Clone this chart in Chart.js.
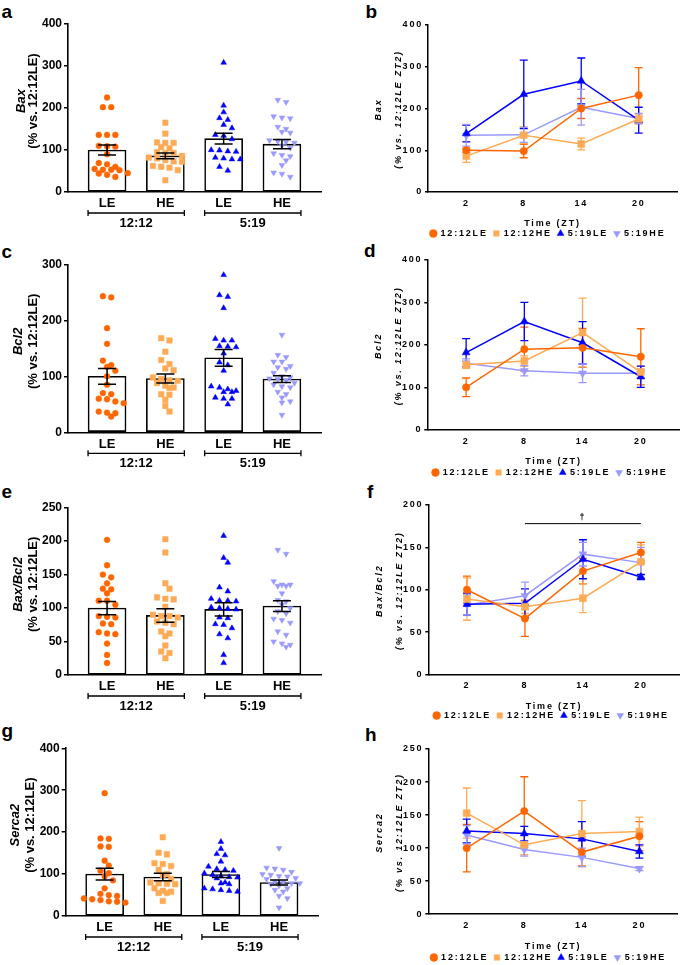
<!DOCTYPE html>
<html>
<head>
<meta charset="utf-8">
<script src="https://cdn.jsdelivr.net/npm/chart.js@4.4.1/dist/chart.umd.min.js"></script>
<style>
  body { margin: 0; width: 685px; height: 965px; position: relative; overflow: hidden; background: #fff; }
  canvas { position: absolute; }
  .tag { position: absolute; font: bold 19px/19px "Liberation Sans", Arial, sans-serif; color: #000; }
</style>
</head>
<body>
<div class="tag" style="left:1.5px;top:2px">a</div>
<div class="tag" style="left:365.5px;top:2px">b</div>
<div class="tag" style="left:1.5px;top:242px">c</div>
<div class="tag" style="left:364px;top:241px">d</div>
<div class="tag" style="left:1.5px;top:482px">e</div>
<div class="tag" style="left:367px;top:482px">f</div>
<div class="tag" style="left:1.5px;top:721px">g</div>
<div class="tag" style="left:365px;top:725px">h</div>
<script>
// ---- data ----
const groupLabels = ['LE', 'HE', 'LE', 'HE'];
const photoperiods = ['12:12', '5:19'];
const seriesNames = ['12:12LE', '12:12HE', '5:19LE', '5:19HE'];
const zt = [2, 8, 14, 20];

// a: Bax, individual animals
const baxLE12 = [225, 202, 202, 136, 136, 136, 110, 109, 108, 90, 69, 66, 60, 55, 53, 53, 52, 45, 44, 41, 36];
const baxHE12 = [165, 139, 118, 117, 117, 107, 104, 95, 93, 93, 86, 82, 80, 76, 73, 72, 62, 60, 58, 52, 28];
const baxLE5 = [308, 206, 190, 176, 172, 160, 152, 136, 134, 126, 100, 99, 97, 96, 82, 80, 78, 78, 60, 51];
const baxHE5 = [219, 214, 180, 177, 175, 155, 150, 143, 141, 123, 121, 119, 117, 110, 105, 92, 88, 85, 75, 64, 46, 43, 36];
const baxMean = [100, 86, 127, 114];
const baxSem = [12, 7, 13, 11];

// c: Bcl2
const bclLE12 = [243, 241, 186, 158, 128, 120, 117, 110, 100, 85, 70, 68, 60, 59, 55, 52, 37, 35, 34, 28];
const bclHE12 = [168, 164, 144, 129, 122, 114, 111, 98, 95, 93, 92, 88, 83, 80, 79, 68, 67, 58, 47, 37];
const bclLE5 = [281, 245, 242, 222, 167, 164, 164, 154, 153, 152, 141, 125, 120, 110, 82, 80, 77, 74, 72, 72, 62, 60, 60, 50];
const bclHE5 = [174, 138, 134, 126, 126, 118, 116, 113, 106, 100, 98, 96, 95, 93, 88, 85, 82, 80, 72, 68, 62, 55, 53, 31];
const bclMean = [100, 96, 133, 95];
const bclSem = [14, 8, 15, 6];

// e: Bax/Bcl2
const ratioLE12 = [202, 164, 150, 146, 137, 129, 128, 122, 111, 111, 105, 88, 87, 86, 77, 76, 64, 62, 61, 47, 30, 18];
const ratioHE12 = [203, 183, 137, 129, 116, 114, 113, 102, 90, 88, 88, 86, 80, 78, 76, 65, 62, 58, 44, 35, 33, 25];
const ratioLE5 = [208, 175, 168, 131, 125, 114, 111, 111, 110, 101, 100, 99, 98, 86, 85, 76, 75, 70, 61, 55, 30, 18];
const ratioHE5 = [187, 181, 140, 135, 135, 133, 133, 122, 112, 110, 105, 100, 95, 92, 84, 82, 78, 65, 60, 50, 47, 45, 42];
const ratioMean = [100, 89, 98, 103];
const ratioSem = [10, 10, 10, 8];

// g: Serca2
const sercaLE12 = [293, 185, 184, 166, 165, 132, 120, 108, 102, 95, 85, 66, 53, 50, 48, 42, 40, 38, 35, 34, 32];
const sercaHE12 = [188, 151, 147, 126, 124, 119, 110, 100, 98, 88, 80, 78, 77, 76, 66, 60, 58, 55, 55, 36];
const sercaLE5 = [177, 160, 148, 145, 130, 118, 112, 110, 108, 102, 98, 95, 93, 92, 90, 80, 78, 76, 66, 64, 62, 60, 58];
const sercaHE5 = [162, 115, 113, 110, 105, 100, 98, 95, 94, 90, 88, 82, 80, 78, 78, 76, 72, 66, 62, 58, 48, 42, 20];
const sercaMean = [100, 93, 99, 80];
const sercaSem = [14, 9, 7, 6];

// b, d, f, h: means and SEM at ZT2, ZT8, ZT14, ZT20 (order 12:12LE, 12:12HE, 5:19LE, 5:19HE)
const baxZtMean = [[100, 98, 200, 232], [86, 136, 115, 175], [140, 234, 266, 172], [136, 137, 203, 176]];
const baxZtSem = [[5, 16, 24, 66], [15, 20, 14, 12], [20, 82, 55, 31], [26, 18, 43, 12]];
const bclZtMean = [[100, 190, 193, 172], [153, 162, 229, 136], [182, 255, 205, 125], [157, 139, 133, 133]];
const bclZtSem = [[22, 52, 46, 66], [8, 12, 81, 14], [33, 45, 50, 25], [10, 12, 22, 10]];
const ratioZtMean = [[100, 66, 122, 144], [89, 80, 90, 133], [83, 84, 136, 115], [82, 93, 142, 132]];
const ratioZtSem = [[16, 21, 15, 12], [25, 8, 17, 20], [13, 17, 23, 3], [12, 16, 14, 18]];
const sercaZtMean = [[100, 156, 94, 118], [153, 105, 122, 125], [126, 122, 114, 95], [120, 98, 86, 69]];
const sercaZtSem = [[36, 52, 21, 22], [38, 15, 50, 22], [18, 11, 26, 10], [14, 10, 14, 3]];
const ratioSigFrom = 8, ratioSigTo = 20, ratioSigAt = 178;

// ---- styling ----
const ink = '#000';
const FAM = '"Liberation Sans", Arial, sans-serif';
const colors = ['#FF6600', '#FFAA55', '#0000FF', '#9999FF'];
const markers = ['circle', 'rect', 'triangle', 'triangle'];
const markerRot = [0, 0, 0, 180];
const dotRadius = [2.9, 3.9, 3.3, 3.3];
const lineRadius = [3.7, 4.9, 4.6, 4.6];
const X_MIN = -0.67, X_MAX = 3.67, SWARM_STEP = 8.3;
const LEGEND_H = 9 + 6 + 10;
const Y_AXIS_W = 28, RIGHT_PAD_W = 19;

Chart.defaults.font.family = FAM;
Chart.defaults.color = ink;

// GraphPad-like scatter: near-equal values share a row, rows centred on the bar
function swarm(vals, center, pxY, pxX) {
  const rows = [];
  vals.slice().sort((a, b) => b - a).forEach(v => {
    const row = rows[rows.length - 1];
    if (row && (row.vals[0] - v) * pxY < 4.5) row.vals.push(v);
    else rows.push({ vals: [v], shift: 0 });
  });
  rows.forEach((row, k) => {
    const prev = rows[k - 1];
    if (prev && (prev.vals[prev.vals.length - 1] - row.vals[0]) * pxY < 6 &&
        prev.vals.length % 2 === row.vals.length % 2) row.shift = prev.shift ? 0 : 0.5;
  });
  const pts = [];
  rows.forEach(row => row.vals.forEach((v, j) => {
    pts.push({ x: center + (j - (row.vals.length - 1) / 2 + row.shift) * SWARM_STEP / pxX, y: v });
  }));
  return pts;
}

function vText(ctx, text, x, y, font) {
  ctx.save();
  ctx.translate(x, y);
  ctx.rotate(-Math.PI / 2);
  ctx.font = font;
  ctx.textAlign = 'center';
  ctx.textBaseline = 'middle';
  ctx.fillStyle = ink;
  ctx.fillText(text, 0, 0);
  ctx.restore();
}

function capLine(ctx, x, y1, y2, half) {
  ctx.beginPath();
  ctx.moveTo(x, y1); ctx.lineTo(x, y2);
  ctx.moveTo(x - half, y1); ctx.lineTo(x + half, y1);
  ctx.moveTo(x - half, y2); ctx.lineTo(x + half, y2);
  ctx.stroke();
}

const deco = {
  id: 'deco',
  beforeUpdate(chart, args, o) { chart.ctx.letterSpacing = o.spacing; },
  beforeDraw(chart, args, o) { chart.ctx.letterSpacing = o.spacing; },
  beforeDatasetsDraw(chart, args, o) {
    if (!o.lineErr) return;
    const ctx = chart.ctx, y = chart.scales.y;
    ctx.save();
    ctx.lineWidth = 1.3;
    chart.data.datasets.forEach((ds, i) => {
      ctx.strokeStyle = ds.borderColor;
      chart.getDatasetMeta(i).data.forEach((el, k) => {
        const m = ds.data[k].y, s = ds.sems[k];
        capLine(ctx, el.x, y.getPixelForValue(m + s), y.getPixelForValue(m - s), 4);
      });
    });
    ctx.restore();
  },
  afterDatasetsDraw(chart, args, o) {
    const ctx = chart.ctx, area = chart.chartArea, x = chart.scales.x, y = chart.scales.y;
    ctx.save();
    ctx.fillStyle = ink;
    ctx.strokeStyle = ink;
    if (o.barErr) {
      ctx.lineWidth = 1.5;
      o.means.forEach((m, i) => {
        capLine(ctx, x.getPixelForValue(i), y.getPixelForValue(m + o.sems[i]), y.getPixelForValue(m - o.sems[i]), 9);
      });
      // photoperiod brackets under the category labels
      ctx.lineWidth = 1.3;
      ctx.font = 'bold 13px ' + FAM;
      ctx.textAlign = 'center';
      ctx.textBaseline = 'middle';
      const by = area.bottom + 21;
      photoperiods.forEach((lab, g) => {
        const x1 = x.getPixelForValue(2 * g) - 19, x2 = x.getPixelForValue(2 * g + 1) + 19;
        ctx.beginPath();
        ctx.moveTo(x1, by); ctx.lineTo(x2, by);
        ctx.moveTo(x1, by - 3); ctx.lineTo(x1, by + 3);
        ctx.moveTo(x2, by - 3); ctx.lineTo(x2, by + 3);
        ctx.stroke();
        ctx.fillText(lab, (x1 + x2) / 2, by + 10);
      });
    }
    if (o.sig) {
      ctx.lineWidth = 1;
      const sy = y.getPixelForValue(o.sig.at);
      ctx.beginPath();
      ctx.moveTo(x.getPixelForValue(o.sig.from), sy);
      ctx.lineTo(x.getPixelForValue(o.sig.to), sy);
      ctx.stroke();
      ctx.font = 'bold 9px ' + FAM;
      ctx.textAlign = 'center';
      ctx.textBaseline = 'bottom';
      ctx.fillText('\u2020', x.getPixelForValue((o.sig.from + o.sig.to) / 2), sy - 2);
    }
    if (o.xTitle) {
      ctx.font = 'bold 9px ' + FAM;
      ctx.textAlign = 'center';
      ctx.textBaseline = 'middle';
      ctx.fillText(o.xTitle, (area.left + area.right) / 2, area.bottom + 32);
    }
    const cy = (area.top + area.bottom) / 2 + o.titleDy;
    o.titles.forEach(t => vText(ctx, t.text, area.left + t.dx, cy, t.font));
    ctx.restore();
  }
};

function addCanvas(box) {
  const c = document.createElement('canvas');
  c.width = box[2];
  c.height = box[3];
  c.style.left = box[0] + 'px';
  c.style.top = box[1] + 'px';
  document.body.appendChild(c);
  return c;
}

function barPanel(p) {
  const [bl, bt, bw, bh] = p.box;
  const [l, t, r, b] = p.area;
  const pxY = (b - t) / p.yMax, pxX = (r - l) / (X_MAX - X_MIN);
  const datasets = [{
    type: 'bar',
    data: p.means.map((m, i) => ({ x: i, y: m })),
    backgroundColor: '#fff', borderColor: ink, borderWidth: 1.6, borderSkipped: false,
    barThickness: 38, order: 5
  }];
  p.groups.forEach((vals, i) => datasets.push({
    type: 'scatter',
    data: swarm(vals, i, pxY, pxX),
    pointStyle: markers[i], pointRotation: markerRot[i], pointRadius: dotRadius[i],
    pointBackgroundColor: colors[i], pointBorderColor: colors[i], pointBorderWidth: 0.5,
    order: 1
  }));
  new Chart(addCanvas(p.box), {
    type: 'scatter',
    data: { datasets },
    options: {
      responsive: false, animation: false, devicePixelRatio: 1,
      layout: { padding: { left: 0, top: t - bt, right: bl + bw - r, bottom: 0 } },
      scales: {
        x: {
          type: 'linear', min: X_MIN, max: X_MAX, offset: false,
          afterFit: s => { s.height = bt + bh - b; },
          afterBuildTicks: s => { s.ticks = groupLabels.map((_, i) => ({ value: i })); },
          ticks: { callback: (v, i) => groupLabels[i], font: { size: 13, weight: 'bold' }, color: ink, padding: 4 },
          grid: { display: false, drawTicks: false, offset: false },
          border: { color: ink, width: 1.6 }
        },
        y: {
          min: 0, max: p.yMax,
          afterFit: s => { s.width = l - bl; },
          ticks: { stepSize: p.yStep, font: { size: 12, weight: 'bold' }, color: ink, padding: 2 },
          grid: { drawOnChartArea: false, tickLength: 4, color: ink, lineWidth: 1.5 },
          border: { color: ink, width: 1.6 }
        }
      },
      plugins: {
        legend: { display: false },
        tooltip: { enabled: false },
        deco: {
          spacing: '0px', barErr: true, means: p.means, sems: p.sems, titleDy: -7,
          titles: [
            { text: p.gene, dx: p.titleDx[0], font: 'italic bold 13px ' + FAM },
            { text: '(% vs. 12:12LE)', dx: p.titleDx[1], font: 'bold 13px ' + FAM }
          ]
        }
      }
    },
    plugins: [deco]
  });
}

function linePanel(p) {
  const [bl, bt, bw, bh] = p.box;
  const [l, t, r, b] = p.area;
  const datasets = p.means.map((m, i) => ({
    label: seriesNames[i],
    data: m.map((v, k) => ({ x: zt[k], y: v })),
    sems: p.sems[i],
    borderColor: colors[i], borderWidth: 1.5, tension: 0, fill: false,
    pointStyle: markers[i], pointRotation: markerRot[i], pointRadius: lineRadius[i],
    pointBackgroundColor: colors[i], pointBorderColor: colors[i], pointBorderWidth: 0.5
  }));
  new Chart(addCanvas(p.box), {
    type: 'line',
    data: { datasets },
    options: {
      responsive: false, animation: false, devicePixelRatio: 1,
      layout: { padding: { left: l - bl - Y_AXIS_W, top: t - bt, right: bl + bw - r - RIGHT_PAD_W, bottom: 0 } },
      scales: {
        x: {
          type: 'linear', min: -2, max: 24,
          afterFit: s => { s.height = bt + bh - LEGEND_H - b; },
          afterBuildTicks: s => { s.ticks = zt.map(v => ({ value: v })); },
          ticks: { font: { size: 9, weight: 'bold' }, color: ink, padding: 6 },
          grid: { display: false, drawTicks: false },
          border: { color: ink, width: 1.5 }
        },
        y: {
          min: 0, max: p.yMax,
          afterFit: s => { s.width = Y_AXIS_W; },
          ticks: { stepSize: p.yStep, font: { size: 9, weight: 'bold' }, color: ink, padding: 2 },
          grid: { drawOnChartArea: false, tickLength: 3, color: ink, lineWidth: 1.5 },
          border: { color: ink, width: 1.5 }
        },
        // empty strip on the right so the legend centres under the plot like the original
        pad: {
          position: 'right', min: 0, max: 1,
          afterFit: s => { s.width = RIGHT_PAD_W; },
          ticks: { display: false }, grid: { display: false }, border: { display: false }
        }
      },
      plugins: {
        legend: {
          position: 'bottom',
          labels: { usePointStyle: true, boxWidth: 5.5, boxHeight: 5.5, padding: 6, color: ink, font: { size: 9, weight: 'bold' } }
        },
        tooltip: { enabled: false },
        deco: {
          spacing: '1.8px', lineErr: true, xTitle: 'Time (ZT)', sig: p.sig, titleDy: 1,
          titles: [
            { text: p.gene, dx: -49, font: 'italic bold 9px ' + FAM },
            { text: '(% vs. 12:12LE ZT2)', dx: -29, font: 'italic bold 9px ' + FAM }
          ]
        }
      }
    },
    plugins: [deco]
  });
}

barPanel({ box: [0, 0, 340, 240], area: [68, 24, 321, 192], yMax: 400, yStep: 100, gene: 'Bax', titleDx: [-47, -35],
  groups: [baxLE12, baxHE12, baxLE5, baxHE5], means: baxMean, sems: baxSem });
barPanel({ box: [0, 240, 340, 240], area: [68, 264.3, 321, 432.3], yMax: 300, yStep: 100, gene: 'Bcl2', titleDx: [-50, -35],
  groups: [bclLE12, bclHE12, bclLE5, bclHE5], means: bclMean, sems: bclSem });
barPanel({ box: [0, 480, 340, 240], area: [68, 507.7, 321, 675], yMax: 250, yStep: 50, gene: 'Bax/Bcl2', titleDx: [-50, -35],
  groups: [ratioLE12, ratioHE12, ratioLE5, ratioHE5], means: ratioMean, sems: ratioSem });
barPanel({ box: [0, 720, 340, 245], area: [65.7, 748.3, 318, 916], yMax: 400, yStep: 100, gene: 'Serca2', titleDx: [-50, -35],
  groups: [sercaLE12, sercaHE12, sercaLE5, sercaHE5], means: sercaMean, sems: sercaSem });

linePanel({ box: [340, 0, 345, 248], area: [428, 25, 677, 192], yMax: 400, yStep: 100, gene: 'Bax',
  means: baxZtMean, sems: baxZtSem });
linePanel({ box: [340, 240, 345, 247.2], area: [427.3, 260, 682, 430], yMax: 400, yStep: 100, gene: 'Bcl2',
  means: bclZtMean, sems: bclZtSem });
linePanel({ box: [340, 480, 345, 250.5], area: [428.3, 505, 683.4, 675], yMax: 200, yStep: 50, gene: 'Bax/Bcl2',
  means: ratioZtMean, sems: ratioZtSem, sig: { from: ratioSigFrom, to: ratioSigTo, at: ratioSigAt } });
linePanel({ box: [340, 720, 345, 252.8], area: [428.3, 749, 677.8, 915], yMax: 250, yStep: 50, gene: 'Serca2',
  means: sercaZtMean, sems: sercaZtSem });
</script>
</body>
</html>
